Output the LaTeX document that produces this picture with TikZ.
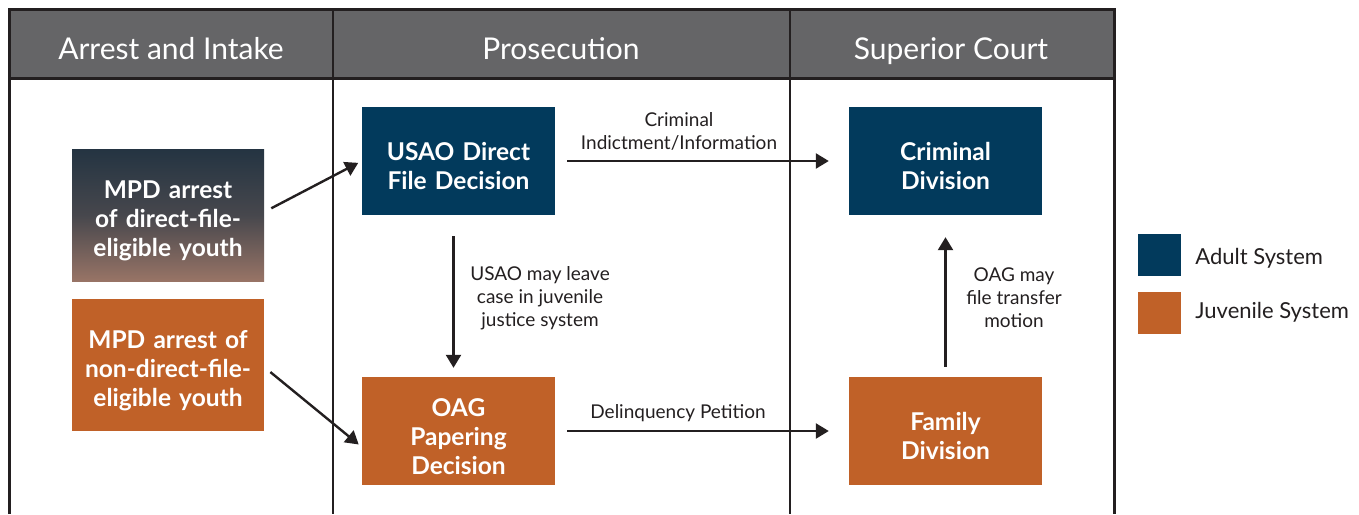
\documentclass[tikz,border=0pt]{standalone}
\usepackage{fontspec}
\setmainfont{Lato}
\usetikzlibrary{arrows.meta,positioning}

\definecolor{adultblue}{RGB}{2,58,92}
\definecolor{juvorange}{RGB}{192,97,40}
\definecolor{headgray}{RGB}{101,101,103}
\definecolor{framegray}{RGB}{35,31,32}
\definecolor{mixtop}{RGB}{36,52,66}
\definecolor{mixbot}{RGB}{152,116,102}

\tikzset{
  box/.style={rectangle, minimum width=193pt, minimum height=108pt, text width=190pt, align=center, inner sep=0pt, text=white, font=\fontsize{24.5}{29}\selectfont\bfseries, execute at begin node={\rule{0pt}{29pt}}},
  adult/.style={box, fill=adultblue},
  juvenile/.style={box, fill=juvorange},
  arrestbox/.style={box, minimum width=192pt, minimum height=132pt},
  arr/.style={-{Triangle[length=13pt,width=15pt]}, line width=2.4pt, draw=framegray},
  lbl/.style={align=center, inner sep=0pt, text=framegray, font=\fontsize{19}{23}\selectfont},
  header/.style={anchor=base, text=white, font=\fontsize{30}{34}\selectfont},
  key/.style={rectangle, minimum width=43pt, minimum height=42pt, inner sep=0pt},
  keytext/.style={anchor=west, inner sep=0pt, text=framegray, font=\fontsize{22}{26}\selectfont}
}

\begin{document}
\begin{tikzpicture}[x=1pt, y=-1pt]
        \useasboundingbox (0,0) rectangle (1359,514);

        % Header and frame
        \fill[headgray] (9,9) rectangle (1114,78);
        \draw[framegray, line width=3pt] (9,514) -- (9,9) -- (1114,9) -- (1114,514);
        \draw[framegray, line width=3pt] (9,78) -- (1114,78);
        \draw[framegray, line width=2.5pt] (333,9) -- (333,514);
        \draw[framegray, line width=2.5pt] (790,9) -- (790,514);

        \node[header] (intake) at (171,59) {Arrest and Intake};
        \node[header] (prosecution) at (561,59) {Prosecution};
        \node[header] (court) at (951,59) {Superior Court};

        % Arrest and Intake
        \node[arrestbox, top color=mixtop, bottom color=mixbot, middle color=mixtop!70!mixbot] (mpddirect) at (168,215) {MPD arrest\\of direct-file-\\eligible youth};
        \node[arrestbox, fill=juvorange] (mpdnondirect) at (168,365) {MPD arrest of\\non-direct-file-\\eligible youth};

        % Prosecution
        \node[adult] (usao) at (458.5,161) {USAO Direct\\File Decision};
        \node[juvenile] (oag) at (458.5,431) {OAG\\Papering\\Decision};

        % Superior Court
        \node[adult] (criminal) at (945.5,161) {Criminal\\Division};
        \node[juvenile] (family) at (945.5,431) {Family\\Division};

        % Legend
        \node[key, fill=adultblue] (adultkey) at (1159.5,255) {};
        \node[key, fill=juvorange] (juvkey) at (1159.5,313) {};
        \node[keytext, right=14pt of adultkey, yshift=-3pt] (adulttext) {Adult System};
        \node[keytext, right=14pt of juvkey, yshift=1pt] (juvtext) {Juvenile System};

        % Arrows
        \draw[arr, shorten <=8pt, shorten >=4pt] ([yshift=3pt]mpddirect.east) -- (usao.west);
        \draw[arr, shorten <=8pt, shorten >=4pt] ([yshift=-2pt]mpdnondirect.east) -- ([yshift=-16pt]oag.west);
        \draw[arr, shorten <=12pt, shorten >=20pt] (usao.east) -- (criminal.west);
        \draw[arr, shorten <=12pt, shorten >=20pt] (oag.east) -- (family.west);
        \draw[arr, shorten <=21pt, shorten >=9pt] ([xshift=-5pt]usao.south) -- ([xshift=-5pt]oag.north);
        \draw[arr, shorten <=10pt, shorten >=22pt] (family.north) -- (criminal.south);

        % Labels
        \node[lbl] (indictment) at (679,131) {Criminal\\Indictment/Information};
        \node[lbl] (petition) at (678,413) {Delinquency Petition};
        \node[lbl] (leave) at (540,298) {USAO may leave\\case in juvenile\\justice system};
        \node[lbl] (transfer) at (1014,298) {OAG may\\file transfer\\motion};
\end{tikzpicture}
\end{document}
